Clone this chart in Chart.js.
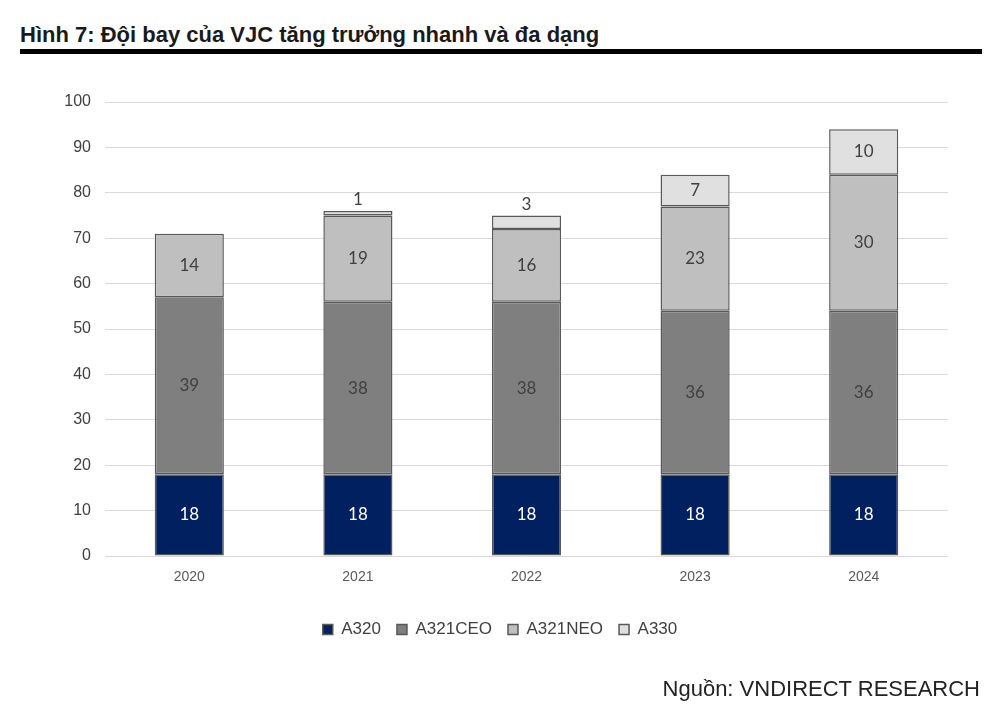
<!DOCTYPE html>
<html>
<head>
<meta charset="utf-8">
<script src="https://cdn.jsdelivr.net/npm/chart.js@4"></script>
<style>
  body { margin: 0; background: #fff; width: 1000px; height: 704px; position: relative; overflow: hidden; font-family: "Liberation Sans", Arial, sans-serif; }
  #title { position: absolute; left: 20px; top: 22px; font-size: 22px; font-weight: bold; color: #1a1a1a; }
  #rule { position: absolute; left: 20px; top: 49px; width: 962px; height: 5px; background: #000; }
  #box { position: absolute; left: 0; top: 60px; width: 1000px; height: 620px; }
  #source { position: absolute; right: 20px; top: 676px; font-size: 22px; color: #222; }
</style>
</head>
<body>
<div id="title">Hình 7: Đội bay của VJC tăng trưởng nhanh và đa dạng</div>
<div id="rule"></div>
<div id="box"><canvas id="chart"></canvas></div>
<div id="source">Nguồn: VNDIRECT RESEARCH</div>
<script>
// Dữ liệu
const years = ["2020", "2021", "2022", "2023", "2024"];
const a320 = [18, 18, 18, 18, 18];
const a321ceo = [39, 38, 38, 36, 36];
const a321neo = [14, 19, 16, 23, 30];
const a330 = [null, 1, 3, 7, 10];
const yTicks = [0, 10, 20, 30, 40, 50, 60, 70, 80, 90, 100];

// Nhãn giá trị trên các cột
const labelPlugin = {
  id: "segLabels",
  afterDatasetsDraw(chart) {
    const ctx = chart.ctx;
    ctx.save();
    ctx.font = "17px Lato, 'Open Sans', sans-serif";
    ctx.textAlign = "center";
    ctx.textBaseline = "middle";
    chart.data.datasets.forEach((ds, i) => {
      const meta = chart.getDatasetMeta(i);
      meta.data.forEach((bar, j) => {
        const v = ds.data[j];
        if (v == null) return;
        const h = Math.abs(bar.base - bar.y);
        let y = (bar.y + bar.base) / 2;
        if (h < 20) y = bar.y - 11;
        ctx.fillStyle = i === 0 ? "#ffffff" : "#404040";
        ctx.fillText(String(v), bar.x, y);
      });
    });
    ctx.restore();
  }
};

const mk = (label, data, color) => ({
  label: label,
  data: data,
  backgroundColor: color,
  borderColor: "#595959",
  borderWidth: 1.5,
  borderSkipped: false,
  barPercentage: 0.82,
  categoryPercentage: 0.5
});

new Chart(document.getElementById("chart"), {
  type: "bar",
  data: {
    labels: years,
    datasets: [
      mk("A320", a320, "#002060"),
      mk("A321CEO", a321ceo, "#7f7f7f"),
      mk("A321NEO", a321neo, "#bfbfbf"),
      mk("A330", a330, "#e0e0e0")
    ]
  },
  options: {
    responsive: true,
    maintainAspectRatio: false,
    animation: false,
    layout: { padding: { left: 0, right: 0, top: 42, bottom: 32 } },
    plugins: {
      legend: {
        position: "bottom",
        labels: {
          boxWidth: 10,
          boxHeight: 10,
          padding: 16,
          color: "#404040",
          font: { family: "'Liberation Sans', Arial", size: 17 }
        }
      },
      tooltip: { enabled: false }
    },
    scales: {
      x: {
        stacked: true,
        grid: { display: false },
        border: { display: false },
        ticks: { color: "#595959", font: { family: "'Liberation Sans', Arial", size: 14 }, padding: 5 },
        afterFit: (s) => { s.height = 49; }
      },
      y: {
        stacked: true,
        min: 0,
        max: 100,
        afterBuildTicks: (s) => { s.ticks = yTicks.map((v) => ({ value: v })); },
        grid: { color: "#d9d9d9", lineWidth: 1, drawTicks: false },
        border: { display: false },
        ticks: { color: "#404040", font: { family: "'Liberation Sans', Arial", size: 16 }, padding: 14 },
        afterFit: (s) => { s.width = 105; }
      },
      // trục phụ rỗng bên phải để giữ lề
      yRight: {
        position: "right",
        min: 0,
        max: 100,
        grid: { display: false },
        border: { display: false },
        ticks: { display: false },
        afterFit: (s) => { s.width = 52; }
      }
    }
  },
  plugins: [labelPlugin]
});
</script>
</body>
</html>
